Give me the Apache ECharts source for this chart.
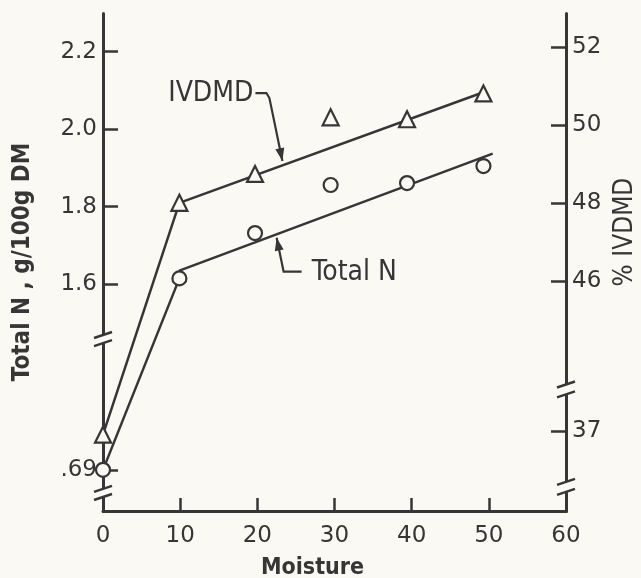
<!DOCTYPE html>
<html>
<head>
<meta charset="utf-8">
<script src="https://cdn.jsdelivr.net/npm/echarts@6.0.0/dist/echarts.min.js"></script>
<style>
html, body { margin: 0; padding: 0; background: #fbf9f3; }
#main { width: 641px; height: 578px; }
</style>
</head>
<body>
<div id="main"></div>
<script>
// measured points
const moisture = [0, 9.9, 19.7, 29.5, 39.4, 49.3];
const totalN = [0.69, 1.615, 1.732, 1.856, 1.861, 1.905];
const ivdmd = [36.92, 48.01, 48.75, 50.2, 50.15, 50.81];

// drawn lines: rise from 0 to 10, then the fitted line
const totalNLine = [[0, 0.69], [9.9, 1.615], [9.9, 1.635], [50.5, 1.937]];
const ivdmdLine = [[0, 36.92], [9.9, 48.01], [9.9, 48.06], [49.3, 50.84]];

// ticks
const xTicks = [0, 10, 20, 30, 40, 50, 60];
const leftTicks = [0.69, 1.6, 1.8, 2.0, 2.2];
const rightTicks = [37, 46, 48, 50, 52];

// axis breaks [start, end]
const leftBreaks = [[0.536, 0.641], [1.017, 1.469]];
const rightBreaks = [[35.49, 35.71], [37.95, 43.36]];

const ink = "#363636";
const bg = "#fbf9f3";
const font = "'DejaVu Sans Condensed', 'DejaVu Sans', sans-serif";
const numFont = "'DejaVu Sans', sans-serif";

let mychart = echarts.init(document.getElementById("main"));

function yAxisBase(side, ticks, breaks, gap, min, max) {
  return {
    type: "value",
    position: side,
    min: min,
    max: max,
    breaks: breaks.map((b) => ({ start: b[0], end: b[1], gap: gap })),
    breakArea: { show: false },
    axisLine: { show: true, lineStyle: { color: ink, width: 3 } },
    axisTick: { show: true, inside: true, length: 15, customValues: ticks, lineStyle: { color: ink, width: 2.5 } },
    axisLabel: {
      customValues: ticks,
      color: ink,
      fontSize: 23,
      fontFamily: numFont,
      margin: 6,
    },
    splitLine: { show: false },
  };
}

let leftAxis = yAxisBase("left", leftTicks, leftBreaks, "1.65%", 0.5, 2.3);
leftAxis.axisLabel.formatter = (v) => (v < 1 ? ".69" : v.toFixed(1));
leftAxis.name = "Total N , g/100g DM";
leftAxis.nameLocation = "middle";
leftAxis.nameGap = 68;
leftAxis.nameTextStyle = { color: ink, fontSize: 24, fontWeight: "bold", fontFamily: font };

let rightAxis = yAxisBase("right", rightTicks, rightBreaks, "2%", 35.0, 52.87);
rightAxis.axisLabel.formatter = (v) => String(v);
rightAxis.name = "% IVDMD";
rightAxis.nameLocation = "middle";
rightAxis.nameGap = 45;
rightAxis.nameTextStyle = { color: ink, fontSize: 26, fontFamily: font, padding: [0, 0, 0, 60] };

mychart.setOption({
  backgroundColor: bg,
  animation: false,
  grid: { left: 103, right: 75, top: 13, bottom: 67, outerBoundsMode: "none" },
  xAxis: {
    type: "value",
    min: 0,
    max: 60,
    interval: 10,
    name: "Moisture",
    nameLocation: "middle",
    nameGap: 46,
    nameTextStyle: { color: ink, fontSize: 23, fontWeight: "bold", fontFamily: font, padding: [0, 44, 0, 0] },
    axisLine: { lineStyle: { color: ink, width: 3 } },
    axisTick: { inside: true, length: 13, customValues: xTicks, lineStyle: { color: ink, width: 2.5 } },
    axisLabel: { customValues: xTicks, color: ink, fontSize: 23, fontFamily: numFont, margin: 14 },
    splitLine: { show: false },
  },
  yAxis: [leftAxis, rightAxis],
  series: [
    {
      name: "Total N line",
      type: "line",
      yAxisIndex: 0,
      data: totalNLine,
      symbol: "none",
      silent: true,
      lineStyle: { color: ink, width: 2.5 },
    },
    {
      name: "IVDMD line",
      type: "line",
      yAxisIndex: 1,
      data: ivdmdLine,
      symbol: "none",
      silent: true,
      lineStyle: { color: ink, width: 2.5 },
    },
    {
      name: "Total N",
      type: "scatter",
      yAxisIndex: 0,
      data: moisture.map((x, i) => [x, totalN[i]]),
      symbol: "circle",
      symbolSize: 14,
      itemStyle: { color: bg, borderColor: ink, borderWidth: 2.2, opacity: 1 },
      z: 5,
    },
    {
      name: "IVDMD",
      type: "scatter",
      yAxisIndex: 1,
      data: moisture.map((x, i) => [x, ivdmd[i]]),
      symbol: "triangle",
      symbolSize: 16,
      itemStyle: { color: bg, borderColor: ink, borderWidth: 2.2, opacity: 1 },
      z: 5,
    },
  ],
});

// break marks on the axis lines and the two labels with arrows
function arrowHead(from, to) {
  let dx = to[0] - from[0];
  let dy = to[1] - from[1];
  let len = Math.sqrt(dx * dx + dy * dy);
  let ux = dx / len, uy = dy / len;
  let bx = to[0] - ux * 13, by = to[1] - uy * 13;
  return {
    type: "polygon",
    z: 100,
    shape: { points: [to, [bx - uy * 4.5, by + ux * 4.5], [bx + uy * 4.5, by - ux * 4.5]] },
    style: { fill: ink },
  };
}

let graphics = [];
[[0, leftBreaks], [1, rightBreaks]].forEach(([idx, breaks]) => {
  let ax = mychart.convertToPixel({ xAxisIndex: 0 }, idx === 0 ? 0 : 60);
  breaks.forEach((b) => {
    let p1 = mychart.convertToPixel({ yAxisIndex: idx }, b[0]);
    let p2 = mychart.convertToPixel({ yAxisIndex: idx }, b[1]);
    graphics.push({
      type: "rect",
      z: 99,
      shape: { x: ax - 4, y: Math.min(p1, p2), width: 8, height: Math.abs(p1 - p2) },
      style: { fill: bg },
    });
    [p1, p2].forEach((y) => {
      graphics.push({
        type: "line",
        z: 100,
        shape: { x1: ax - 9, y1: y + 3, x2: ax + 9, y2: y - 3 },
        style: { stroke: ink, lineWidth: 2.5 },
      });
    });
  });
});

let t1 = mychart.convertToPixel({ seriesIndex: 1 }, [23.25, 49.08]);
let k1 = [t1[0] - 13, t1[1] - 63];
graphics.push({
  type: "polyline",
  z: 100,
  shape: { points: [[t1[0] - 27, t1[1] - 68], [t1[0] - 16, t1[1] - 68], k1, t1] },
  style: { stroke: ink, lineWidth: 2.2, fill: null },
});
graphics.push(arrowHead(k1, t1));
graphics.push({
  type: "text",
  z: 100,
  x: t1[0] - 29,
  y: t1[1] - 67,
  style: { text: "IVDMD", fill: ink, fontSize: 28, fontFamily: font, align: "right", verticalAlign: "middle" },
});

let t2 = mychart.convertToPixel({ seriesIndex: 0 }, [22.5, 1.72]);
let k2 = [t2[0] + 7, t2[1] + 34];
graphics.push({
  type: "polyline",
  z: 100,
  shape: { points: [t2, k2, [t2[0] + 25, t2[1] + 34]] },
  style: { stroke: ink, lineWidth: 2.2, fill: null },
});
graphics.push(arrowHead(k2, t2));
graphics.push({
  type: "text",
  z: 100,
  x: t2[0] + 35,
  y: t2[1] + 35,
  style: { text: "Total N", fill: ink, fontSize: 28, fontFamily: font, align: "left", verticalAlign: "middle" },
});

mychart.setOption({ graphic: graphics });
</script>
</body>
</html>
